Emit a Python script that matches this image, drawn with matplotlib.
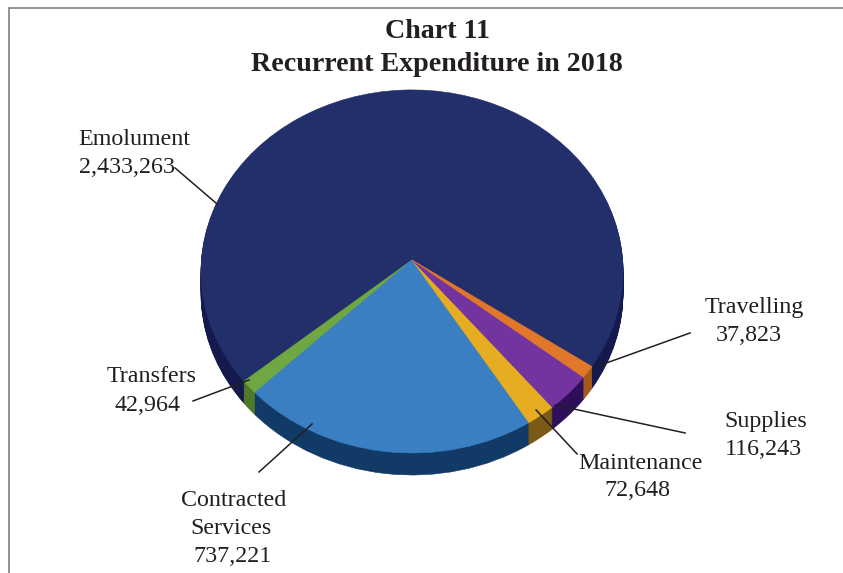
import matplotlib
matplotlib.use("Agg")
import matplotlib.pyplot as plt
import numpy as np
from matplotlib.transforms import Transform, Affine2D

categories = ["Emolument", "Transfers", "Contracted Services", "Maintenance", "Supplies", "Travelling"]
values = [2433263, 42964, 737221, 72648, 116243, 37823]
top_colors = ["#232f6b", "#6fa843", "#3a7fc1", "#e6ad22", "#7434a0", "#e0772a"]
wall_colors = ["#141a4d", "#4f7a2a", "#123a66", "#7a5a14", "#2d0f5a", "#a05a1a"]
title_lines = ["Chart 11", "Recurrent Expenditure in 2018"]
label_lines = [
    ("Emolument", 134, 139), ("2,433,263", 127, 167),
    ("Transfers", 152, 376), ("42,964", 147, 405),
    ("Contracted", 234, 500), ("Services", 231, 528), ("737,221", 232, 556),
    ("Maintenance", 640, 463), ("72,648", 637, 490),
    ("Supplies", 766, 421), ("116,243", 763, 449),
    ("Travelling", 754, 307), ("37,823", 749, 335),
]
leaders = [
    ((175, 168), (217, 204)),
    ((193, 401), (249, 380)),
    ((259, 472), (312, 424)),
    ((577, 454), (536, 410)),
    ((685, 433), (555, 405)),
    ((690, 333), (598, 366)),
]

W, H = 843, 573
CX, CY, RX, RY, DEPTH = 412, 271.5, 211, 181.5, 22
TILT = 11.5 / 181.5
START = -34.6


class Tilt(Transform):
    """Perspective map of the unit disc onto itself: moves the apex up, keeps edges straight."""
    input_dims = 2
    output_dims = 2
    is_separable = False
    has_inverse = False

    def __init__(self, s):
        super().__init__()
        self.s = s

    def transform_non_affine(self, values):
        v = np.asarray(values, dtype=float)
        d = 1 + self.s * v[:, 1]
        return np.column_stack((v[:, 0] * np.sqrt(1 - self.s ** 2) / d, (v[:, 1] + self.s) / d))


plt.rcParams["font.family"] = ["Liberation Serif", "DejaVu Serif"]
fig = plt.figure(figsize=(W / 100 + 0.001, H / 100 + 0.001), dpi=100, facecolor="white")

ax = fig.add_axes([0, 0, 1, 1])
ax.set_xlim((0 - CX) / RX, (W - CX) / RX)
ax.set_ylim((CY - H) / RY, CY / RY)
tilt = Tilt(TILT)


def draw_layer(colors, offset):
    wedges, _ = ax.pie(values, startangle=START, counterclock=True, radius=1, center=(0, 0),
                       colors=colors, wedgeprops=dict(linewidth=0.4), normalize=True, frame=False)
    for w in wedges:
        w.set_edgecolor(w.get_facecolor())
        w.set_transform(tilt + Affine2D().translate(0, -offset) + ax.transData)


for step in range(DEPTH, 0, -1):
    draw_layer(wall_colors, step / RY)
draw_layer(top_colors, 0)

ax.set_aspect("auto")
ax.set_xlim((0 - CX) / RX, (W - CX) / RX)
ax.set_ylim((CY - H) / RY, CY / RY)
ax.axis("off")

ov = fig.add_axes([0, 0, 1, 1], facecolor="none")
ov.set_xlim(0, W)
ov.set_ylim(H, 0)
ov.axis("off")

ov.plot([9, 9, W], [H, 8, 8], color="#808080", lw=1.2, solid_joinstyle="miter")
for (a, b) in leaders:
    ov.plot([a[0], b[0]], [a[1], b[1]], color="#231f20", lw=1.1)
for text, x, y in label_lines:
    ov.text(x, y, text, ha="center", va="center", fontsize=17.3, color="#231f20")
ov.text(437, 31, title_lines[0], ha="center", va="center", fontsize=20.2, fontweight="bold", color="#231f20")
ov.text(437, 64, title_lines[1], ha="center", va="center", fontsize=20.2, fontweight="bold", color="#231f20")

fig.savefig("out.png", dpi=100, facecolor="white")
